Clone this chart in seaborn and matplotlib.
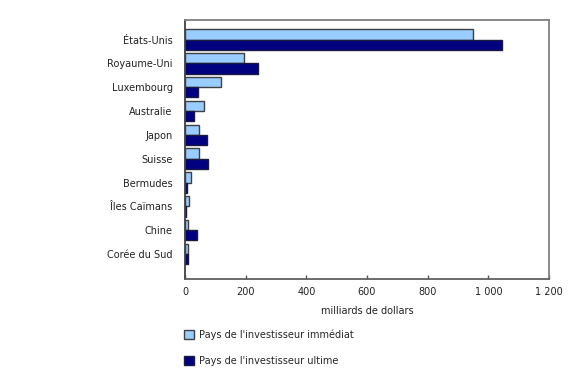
import matplotlib
matplotlib.use("Agg")
import matplotlib.pyplot as plt
import seaborn as sns
import pandas as pd
from matplotlib.patches import Patch
from matplotlib.ticker import FuncFormatter

countries = ["États-Unis", "Royaume-Uni", "Luxembourg", "Australie", "Japon",
             "Suisse", "Bermudes", "Îles Caïmans", "Chine", "Corée du Sud"]
immediat = [948, 195, 120, 64, 46, 46, 19, 13, 11, 11]
ultime = [1046, 242, 42, 30, 74, 76, 6, 2, 39, 11]
series = ["Pays de l'investisseur immédiat", "Pays de l'investisseur ultime"]
xticks = [0, 200, 400, 600, 800, 1000, 1200]

df = pd.DataFrame({
    "pays": countries * 2,
    "valeur": immediat + ultime,
    "serie": [series[0]] * len(countries) + [series[1]] * len(countries),
})

sns.set_theme(style="white")
plt.rcParams['font.family'] = ['DejaVu Sans']

colors = ["#99CCFF", "#000080"]
edges = ["#404040", "#1a1a40"]

fig = plt.figure(figsize=(5.8, 3.7), dpi=100)
ax = fig.add_axes([0.319, 0.246, 0.9466 - 0.319, 0.947 - 0.246])
sns.barplot(data=df, y="pays", x="valeur", hue="serie", order=countries,
            hue_order=series, palette=colors, orient="h", width=0.86,
            dodge=True, ax=ax, legend=False, saturation=1)

for i, container in enumerate(ax.containers):
    for p in container:
        p.set_edgecolor(edges[i])
        p.set_linewidth(1.0)

ax.set_xlim(0, 1200)
ax.set_xticks(xticks)
ax.xaxis.set_major_formatter(FuncFormatter(lambda v, _: f"{int(v):,}".replace(",", " ")))
ax.set_ylim(len(countries) + 0.05, -0.84)
ax.set_xlabel("milliards de dollars", fontsize=7, labelpad=6, color="#222222")
ax.set_ylabel("")
ax.tick_params(axis="x", direction="in", length=3, width=1, color="#555555",
               labelsize=7, pad=6, labelcolor="#222222", bottom=True)
ax.tick_params(axis="y", length=0, labelsize=7, pad=9, labelcolor="#222222")
for s in ax.spines.values():
    s.set_visible(True)
    s.set_color("#808080")
    s.set_linewidth(1.3)
ax.spines["left"].set_color("#404040")
ax.spines["bottom"].set_color("#606060")

handles = [Patch(facecolor=colors[i], edgecolor=edges[i], linewidth=1.0, label=series[i])
           for i in range(2)]
fig.legend(handles=handles, loc="upper left", bbox_to_anchor=(0.311, 0.12),
           frameon=False, fontsize=7, handlelength=1.0, handleheight=1.0,
           handletextpad=0.5, labelspacing=1.6, borderaxespad=0)

fig.savefig("out.png", dpi=100)
